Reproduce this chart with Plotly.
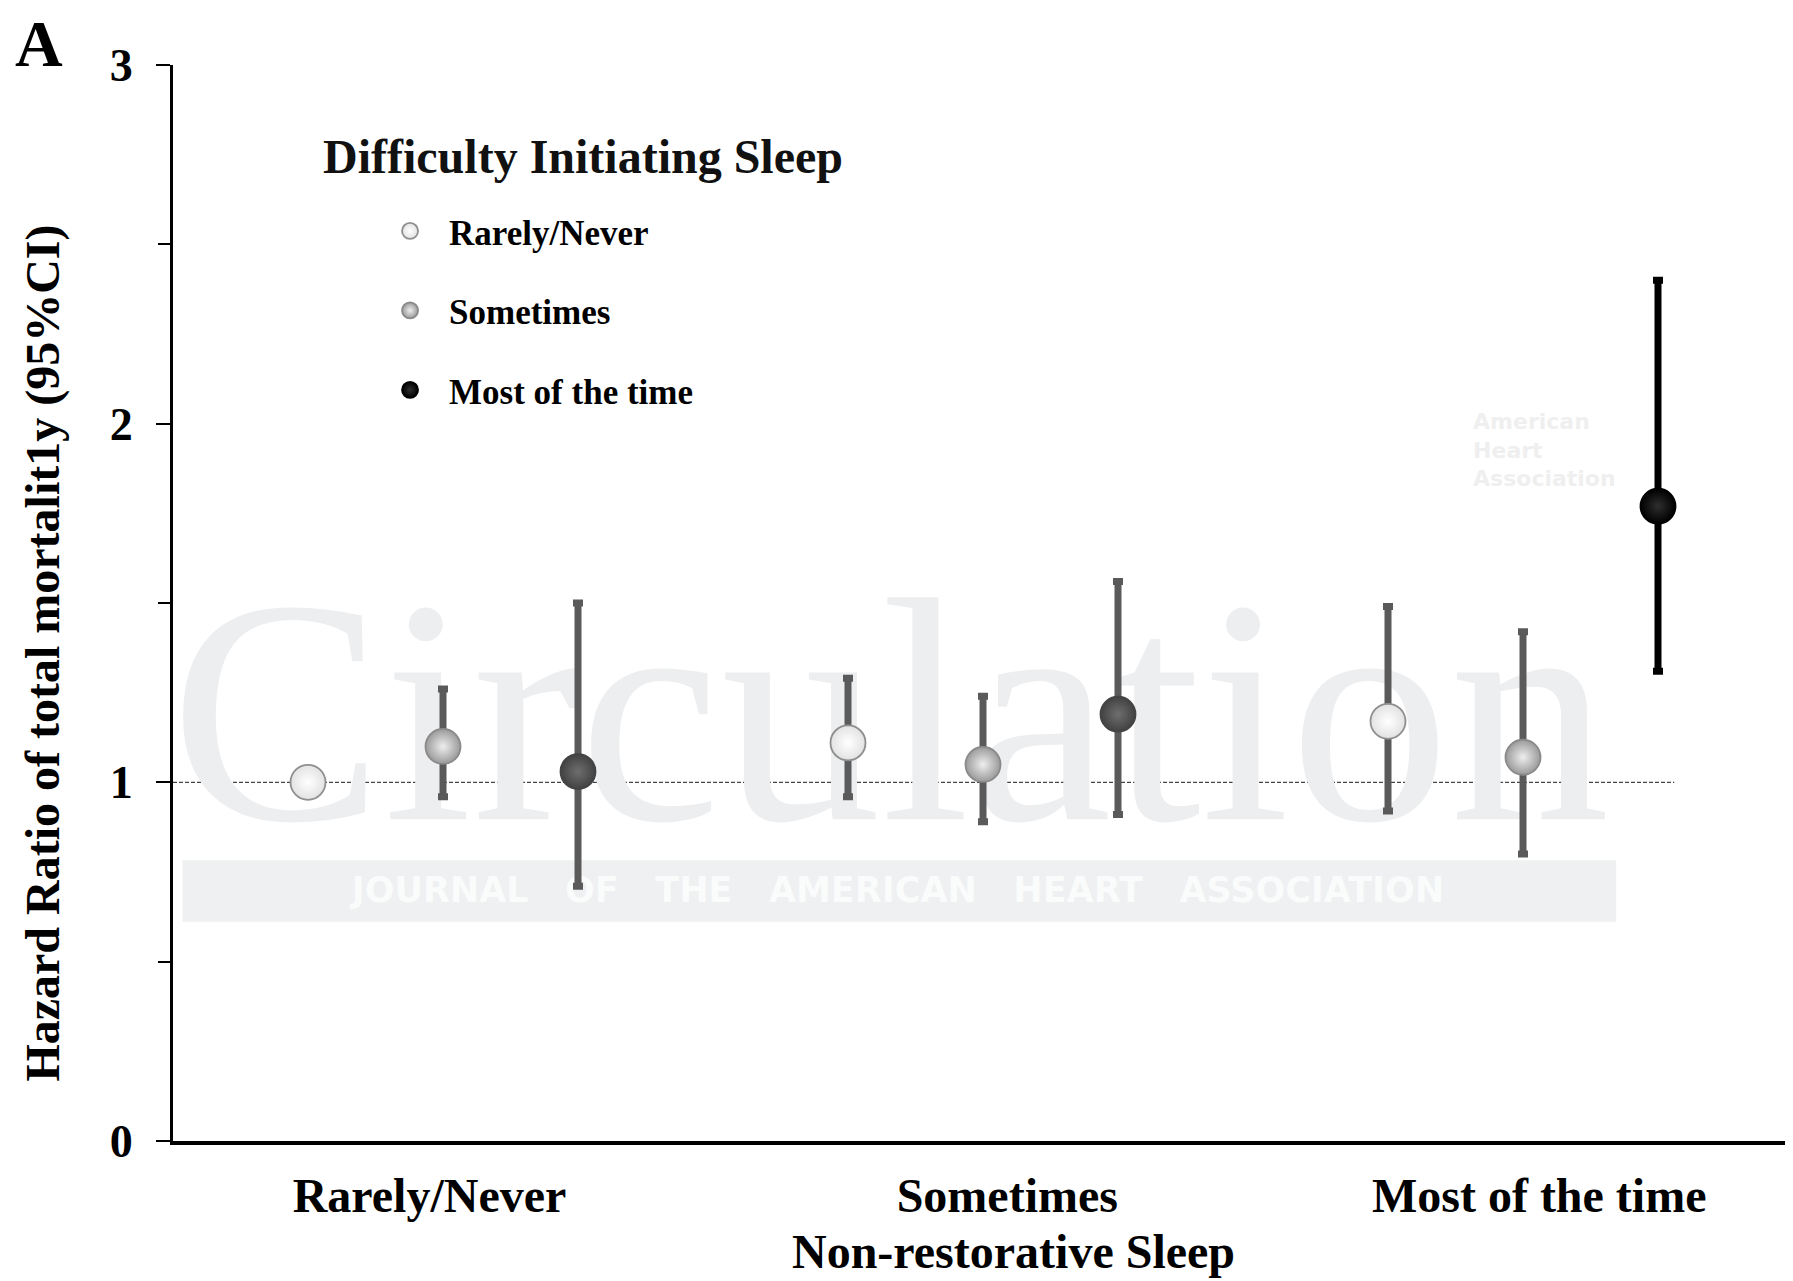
import plotly.graph_objects as go

# ---------------- data ----------------
nrs_categories = ["Rarely/Never", "Sometimes", "Most of the time"]   # Non-restorative sleep (x groups)
dis_levels = ["Rarely/Never", "Sometimes", "Most of the time"]       # Difficulty initiating sleep (series)

hr_dis_rarely = [1.00, 1.11, 1.17]
lo_dis_rarely = [1.00, 0.96, 0.92]
hi_dis_rarely = [1.00, 1.29, 1.49]

hr_dis_sometimes = [1.10, 1.05, 1.07]
lo_dis_sometimes = [0.96, 0.89, 0.80]
hi_dis_sometimes = [1.26, 1.24, 1.42]

hr_dis_most = [1.03, 1.19, 1.77]
lo_dis_most = [0.71, 0.91, 1.31]
hi_dis_most = [1.50, 1.56, 2.40]

reference_hr = 1.0
y_tick_values = [0, 1, 2, 3]
y_title = "Hazard Ratio of total mortalit1y (95%CI)"
x_title = "Non-restorative Sleep"
legend_title = "Difficulty Initiating Sleep"
panel_label = "A"

# ---------------- style ----------------
FONT = "Liberation Serif"
GROUP_STEP = 4  # positions per NRS group (3 points + gap)
PAGE_MARGIN = 8  # default body margin of the html page
LABEL_NUDGE = [-0.1, 0.18, 0.12]  # small horizontal nudges of the group labels


def xpos(group_idx, level_idx):
    return group_idx * GROUP_STEP + level_idx


def err(hr, lo, hi):
    return [h - l for h, l in zip(hr, lo)], [u - h for h, u in zip(hr, hi)]


fig = go.Figure()

# ---- faint journal watermark (drawn first so it sits beneath the data) ----
fig.add_trace(go.Scatter(
    x=[4.31], y=[1.12], mode="text", text=["Circulation"],
    textfont=dict(family=FONT, size=320, color="#edeef0"),
    showlegend=False, hoverinfo="skip"))
gap = "\u00a0 \u00a0"
fig.add_trace(go.Scatter(
    x=[4.37], y=[0.69], mode="text",
    text=["<b>" + gap.join(["JOURNAL", "OF", "THE", "AMERICAN", "HEART", "ASSOCIATION"]) + "</b>"],
    textfont=dict(family="DejaVu Sans", size=35, color="#fafbfb"),
    showlegend=False, hoverinfo="skip"))
fig.add_trace(go.Scatter(
    x=[8.63], y=[1.92], mode="text", textposition="middle right",
    text=["<b>American<br>Heart<br>Association</b>"],
    textfont=dict(family="DejaVu Sans", size=22, color="#efefef"),
    showlegend=False, hoverinfo="skip"))

series = [
    dict(name=dis_levels[0], idx=0, hr=hr_dis_rarely, lo=lo_dis_rarely, hi=hi_dis_rarely,
         groups=[0, 1, 2], edge="#e2e2e2", center="#ffffff", line="#8f8f8f", ebar="#5a5a5a",
         showlegend=True, lg="rarely"),
    dict(name=dis_levels[1], idx=1, hr=hr_dis_sometimes, lo=lo_dis_sometimes, hi=hi_dis_sometimes,
         groups=[0, 1, 2], edge="#9a9a9a", center="#eeeeee", line="#8a8a8a", ebar="#5a5a5a",
         showlegend=True, lg="sometimes"),
    dict(name=dis_levels[2], idx=2, hr=hr_dis_most[2:], lo=lo_dis_most[2:], hi=hi_dis_most[2:],
         groups=[2], edge="#000000", center="#2e2e2e", line="#000000", ebar="#000000",
         showlegend=True, lg="most"),
    dict(name=dis_levels[2], idx=2, hr=hr_dis_most[:2], lo=lo_dis_most[:2], hi=hi_dis_most[:2],
         groups=[0, 1], edge="#424242", center="#6e6e6e", line="#444444", ebar="#5a5a5a",
         showlegend=False, lg="most"),
]

for s in series:
    minus, plus = err(s["hr"], s["lo"], s["hi"])
    fig.add_trace(go.Scatter(
        x=[xpos(g, s["idx"]) for g in s["groups"]],
        y=s["hr"],
        mode="markers",
        name=s["name"],
        legendgroup=s["lg"],
        showlegend=s["showlegend"],
        marker=dict(size=35, color=s["edge"],
                    gradient=dict(type="radial", color=s["center"]),
                    line=dict(color=s["line"], width=1.8)),
        error_y=dict(type="data", symmetric=False, array=plus, arrayminus=minus,
                     color=s["ebar"], thickness=7, width=5),
        hoverinfo="skip",
    ))

# band behind the journal subtitle + reference line at HR = 1
fig.add_shape(type="rect", xref="x", yref="y", x0=-0.93, x1=9.69, y0=0.611, y1=0.783,
              fillcolor="#eef0f1", line=dict(width=0), layer="below")
fig.add_shape(type="line", xref="x", yref="y", x0=-1, x1=10.12, y0=reference_hr, y1=reference_hr,
              line=dict(color="#444444", width=1.4, dash="4px,2px"), layer="below")

# panel label, axis titles and legend heading
fig.add_annotation(text=f"<b>{panel_label}</b>", xref="paper", yref="paper",
                   x=-0.0985, y=1.056, xanchor="left", yanchor="top", showarrow=False,
                   font=dict(family=FONT, size=66, color="black"))
fig.add_annotation(text=f"<b>{y_title}</b>", xref="paper", yref="paper",
                   x=-0.0805, y=0.4535, xanchor="center", yanchor="middle", textangle=-90,
                   showarrow=False, font=dict(family=FONT, size=48, color="black"))
fig.add_annotation(text=f"<b>{x_title}</b>", xref="paper", yref="paper",
                   x=0.519, y=-0.103, xanchor="center", yanchor="middle",
                   showarrow=False, font=dict(family=FONT, size=48, color="black"))
fig.add_annotation(text=f"<b>{legend_title}</b>", xref="paper", yref="paper",
                   x=0.0915, y=0.915, xanchor="left", yanchor="middle",
                   showarrow=False, font=dict(family=FONT, size=48, color="#111111"))

fig.update_layout(
    width=1793 - PAGE_MARGIN, height=1281 - PAGE_MARGIN,
    margin=dict(l=173 - PAGE_MARGIN, r=0, t=65 - PAGE_MARGIN, b=140, autoexpand=False),
    paper_bgcolor="white", plot_bgcolor="rgba(0,0,0,0)",
    font=dict(family=FONT, color="black"),
    hovermode=False,
    showlegend=True,
    legend=dict(
        font=dict(family=FONT, size=35, color="black", weight="bold"),
        x=0.092, y=0.873, xanchor="left", yanchor="top",
        bgcolor="rgba(0,0,0,0)", borderwidth=0,
        traceorder="grouped", tracegroupgap=31,
        itemwidth=68, indentation=49,
    ),
    xaxis=dict(
        range=[-1, 11], automargin=False,
        tickvals=[xpos(g, 1) + LABEL_NUDGE[g] for g in range(len(nrs_categories))],
        ticktext=[f"<b>{c}</b>" for c in nrs_categories],
        ticks="", showgrid=False, zeroline=False,
        showline=True, linecolor="black", linewidth=4,
        tickfont=dict(family=FONT, size=48, color="black"),
        ticklabelstandoff=9,
    ),
    yaxis=dict(
        range=[0, 3], automargin=False,
        tickvals=y_tick_values,
        ticktext=[f"<b>{v}</b>" for v in y_tick_values],
        ticks="outside", ticklen=14, tickwidth=2, tickcolor="black",
        minor=dict(dtick=0.5, ticks="outside", ticklen=12, tickwidth=2, tickcolor="black"),
        showgrid=False, zeroline=False,
        showline=True, linecolor="black", linewidth=3,
        tickfont=dict(family=FONT, size=46, color="black"),
        ticklabelstandoff=14,
    ),
)

fig.write_html("out.html")
